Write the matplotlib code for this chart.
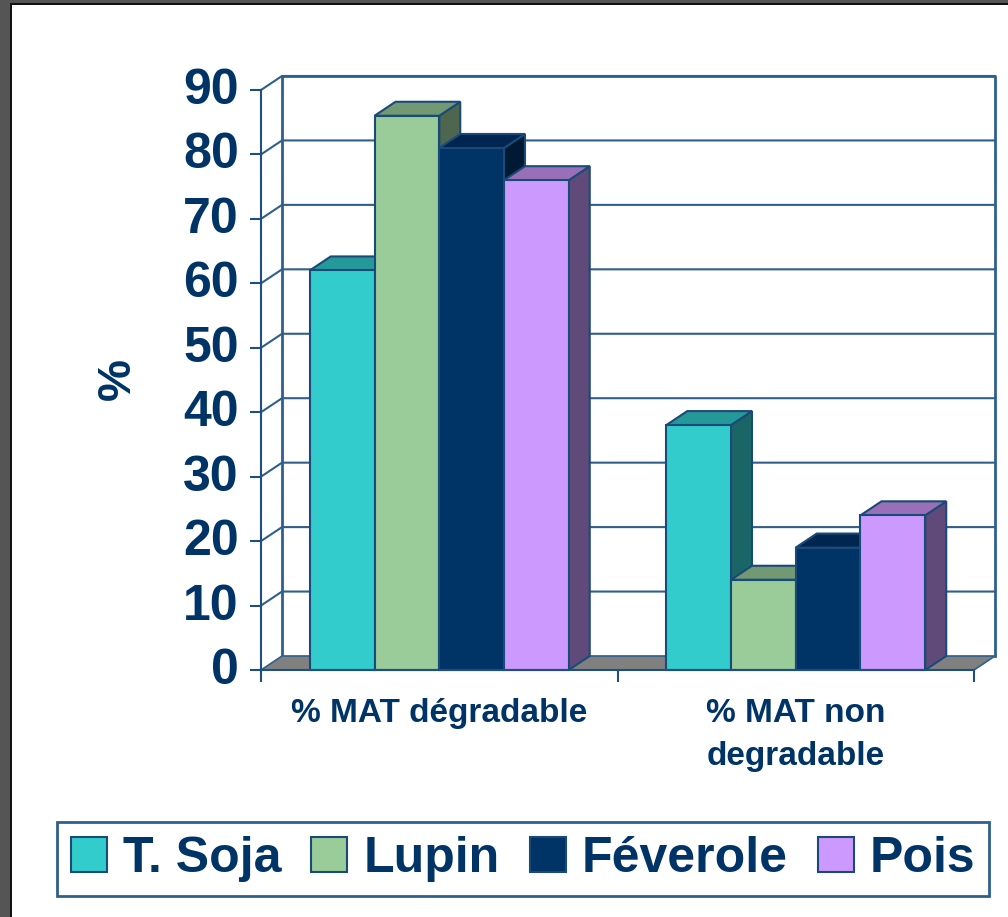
import matplotlib
matplotlib.use('Agg')
import matplotlib.pyplot as plt
from matplotlib.patches import Polygon, Patch, Rectangle
from matplotlib.transforms import ScaledTranslation

plt.rcParams['font.family'] = ['Liberation Sans', 'DejaVu Sans']
plt.rcParams['font.weight'] = 'bold'

categories = ['% MAT dégradable', '% MAT non\ndegradable']
series = ['T. Soja', 'Lupin', 'Féverole', 'Pois']
soja = [62, 38]
lupin = [86, 14]
feverole = [81, 19]
pois = [76, 24]
yticks = [0, 10, 20, 30, 40, 50, 60, 70, 80, 90]

front = ['#33CCCC', '#99CC99', '#003366', '#CC99FF']
top = ['#259999', '#739973', '#002650', '#9970B8']
side = ['#1A6666', '#4D664D', '#001A33', '#604A7A']
ink = '#003366'
line = '#2F5F8C'

W, H = 1008, 917
fig = plt.figure(figsize=(W / 100, H / 100), dpi=100, facecolor='white')

# window border of the screenshot
fig.add_artist(Rectangle((0, 0), 10 / W, 1, transform=fig.transFigure, color='#555555', lw=0))
fig.add_artist(Rectangle((0, 1 - 3 / H), 1, 3 / H, transform=fig.transFigure, color='#555555', lw=0))
fig.add_artist(Rectangle((10 / W, 0), 2 / W, 1 - 3 / H, transform=fig.transFigure, color='#111111', lw=0))
fig.add_artist(Rectangle((10 / W, 1 - 5 / H), 1, 2 / H, transform=fig.transFigure, color='#111111', lw=0))

# front plane of the chart, pixels 261-974 / 90-670
ax = fig.add_axes([261 / W, 1 - 670 / H, 713 / W, 580 / H])
ax.set_xlim(0, 2)
ax.set_ylim(0, 90)
ax.patch.set_visible(False)

# 3d depth, in data units
dx = 21 / 356.5
dy = 14 / 6.44

for t in yticks[1:]:
    ax.plot([0, dx, 2 + dx], [t, t + dy, t + dy], color=line, lw=1.5, clip_on=False, zorder=1)
ax.plot([dx, dx, 2 + dx, 2 + dx], [dy, 90 + dy, 90 + dy, dy], color=line, lw=2, clip_on=False, zorder=1)
ax.add_patch(Polygon([(0, 0), (dx, dy), (2 + dx, dy), (2, 0)], fc='#808080', ec=line, lw=1.2,
                     clip_on=False, zorder=1.5))

width = 0.1816
values = [soja, lupin, feverole, pois]
z = 3
for c in range(len(categories)):
    start = c + 0.5 - 2 * width
    for s in range(len(series)):
        v = values[s][c]
        x0 = start + s * width
        x1 = x0 + width
        ax.add_patch(Polygon([(x1, 0), (x1 + dx, dy), (x1 + dx, v + dy), (x1, v)],
                             fc=side[s], ec='#1A4A78', lw=1.5, clip_on=False, zorder=z))
        ax.add_patch(Polygon([(x0, v), (x0 + dx, v + dy), (x1 + dx, v + dy), (x1, v)],
                             fc=top[s], ec='#1A4A78', lw=1.5, clip_on=False, zorder=z + 0.1))
        ax.bar(x0, v, width, align='edge', color=front[s], edgecolor='#1A4A78', lw=1.5,
               clip_on=False, zorder=z + 0.2)
        z += 1

ax.spines['top'].set_visible(False)
ax.spines['right'].set_visible(False)
for k in ['left', 'bottom']:
    ax.spines[k].set_color('#1F4F80')
    ax.spines[k].set_linewidth(1.5)
ax.spines['bottom'].set_zorder(30)

ax.set_yticks(yticks)
ax.set_yticklabels([str(t) for t in yticks], fontsize=36, color=ink, fontweight='bold')
ax.tick_params(axis='y', length=8, width=1.5, color='#1F4F80', pad=8)
# labels sit a little above their ticks in the original
up = ScaledTranslation(0, 4 / 100, fig.dpi_scale_trans)
for lab in ax.get_yticklabels():
    lab.set_transform(lab.get_transform() + up)
ax.set_xticks([0, 1, 2])
ax.set_xticklabels([])
ax.tick_params(axis='x', length=8.5, width=1.5, color='#1F4F80')
ax.set_xticks([0.5, 1.5], minor=True)
ax.set_xticklabels(categories, minor=True, fontsize=24, color=ink, fontweight='bold', linespacing=1.5)
ax.tick_params(axis='x', which='minor', length=0, pad=20)

fig.text(118 / W, 1 - 379 / H, '%', rotation=90, fontsize=34, color=ink, fontweight='bold',
         ha='center', va='center')

handles = [Patch(fc=front[s], ec='#1A4A78', lw=1.5, label=series[s]) for s in range(len(series))]
leg = fig.legend(handles=handles, ncol=4, mode='expand', loc='center',
                 bbox_to_anchor=(57 / W, 1 - 897 / H, 932 / W, 76 / H), borderaxespad=0,
                 labelcolor=ink, fancybox=False, framealpha=1, edgecolor=line,
                 handlelength=0.72, handleheight=0.68, handletextpad=0.32, borderpad=0.28,
                 prop={'weight': 'bold', 'size': 36, 'family': ['Liberation Sans', 'DejaVu Sans']})
leg.get_frame().set_linewidth(2)

fig.savefig('out.png', dpi=100)
